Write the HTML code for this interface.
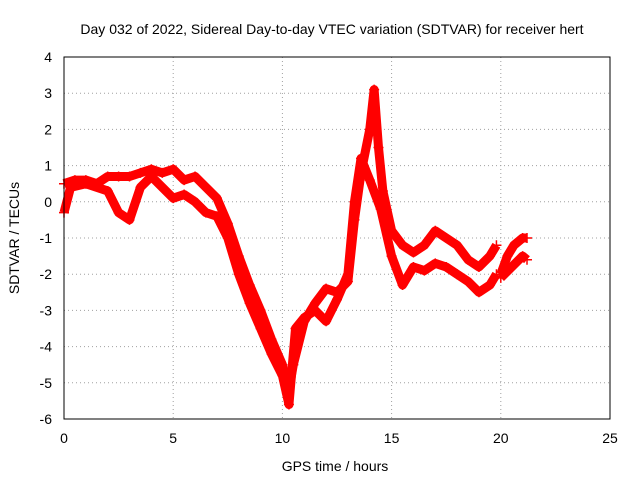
<!DOCTYPE html>
<html><head><meta charset="utf-8"><style>
body{margin:0;background:#fff}
svg text{font-family:"Liberation Sans",sans-serif;font-size:14px;fill:#000}
</style></head><body>
<svg id="c" width="640" height="480">
<text x="332" y="34" text-anchor="middle">Day 032 of 2022, Sidereal Day-to-day VTEC variation (SDTVAR) for receiver hert</text>
<text x="335" y="471" text-anchor="middle">GPS time / hours</text>
<text transform="translate(19,238) rotate(-90)" text-anchor="middle">SDTVAR / TECUs</text>
<g id="grid"></g><g id="marks"></g>
<rect x="64" y="57" width="546" height="362" fill="none" stroke="#000"/>
</svg>
<script>
const xTicks=[0,5,10,15,20,25];
const yTicks=[-6,-5,-4,-3,-2,-1,0,1,2,3,4];
const tA=[0,0.5,1,1.5,2,2.5,3,3.5,4,4.5,5,5.5,6,6.5,7,7.5,8,8.5,9,9.5,10,10.3,10.5,11,11.5,12,12.5,13,13.3,13.6,14,14.2,14.4,14.6,15,15.5,16,16.5,17,17.5,18,18.5,19,19.5,19.8];
const vA=[0.5,0.6,0.6,0.5,0.7,0.7,0.7,0.8,0.9,0.8,0.9,0.6,0.7,0.4,0.1,-0.6,-1.5,-2.3,-3.0,-3.8,-4.5,-5.2,-4.5,-3.3,-2.8,-2.4,-2.5,-2.2,-0.5,0.8,2.0,3.1,1.5,0.3,-0.8,-1.2,-1.4,-1.2,-0.8,-1.0,-1.2,-1.6,-1.8,-1.5,-1.2];
const tB=[0,0.3,1,2,2.5,3,3.5,4,5,5.5,6,6.5,7,7.5,8,8.5,9,9.5,10,10.3,10.6,11,11.5,12,12.5,13,13.3,13.6,14,14.5,15,15.5,16,16.5,17,17.5,18,18.5,19,19.5,19.8];
const vB=[-0.3,0.4,0.5,0.3,-0.3,-0.5,0.4,0.7,0.1,0.2,0.0,-0.3,-0.4,-1.0,-2.0,-2.8,-3.5,-4.2,-4.8,-5.6,-3.5,-3.2,-3.0,-3.3,-2.7,-2.0,0.0,1.2,0.6,-0.2,-1.5,-2.3,-1.8,-1.9,-1.7,-1.8,-2.0,-2.2,-2.5,-2.3,-2.0];
const tC=[20,20.3,20.6,21,21.2];
const vC=[-2.0,-1.5,-1.2,-1.0,-1.0];
const tD=[20,20.5,21,21.2];
const vD=[-2.1,-1.8,-1.5,-1.6];
const X=t=>64+t*546/25, Y=v=>419-(v+6)*36.2;
const ns="http://www.w3.org/2000/svg";
const g=document.getElementById('grid'), m=document.getElementById('marks');
function mk(tag,a,p){const e=document.createElementNS(ns,tag);for(const k in a)e.setAttribute(k,a[k]);p.appendChild(e);return e;}
xTicks.forEach(t=>{
  const l=mk('line',{x1:X(t),x2:X(t),y1:57,y2:419,stroke:'#a0a0a0','stroke-dasharray':'1,3'},g);
  
  
  const s=mk('text',{x:X(t),y:443,'text-anchor':'middle'},g);s.textContent=t;
  
  
});
yTicks.forEach(v=>{
  const l=mk('line',{x1:64,x2:610,y1:Y(v),y2:Y(v),stroke:'#a0a0a0','stroke-dasharray':'1,3'},g);
  
  
  const s=mk('text',{x:52,y:Y(v)+5,'text-anchor':'end'},g);s.textContent=v;
  
  
});
function series(ts,vs,name){
  const pts=ts.map((t,i)=>X(t)+','+Y(vs[i])).join(' ');
  const pl=mk('polyline',{points:pts,fill:'none',stroke:'#f00','stroke-width':9,'stroke-linejoin':'round'},m);
  
  
  ts.forEach((t,i)=>{
    const x=X(t),y=Y(vs[i]);
    const p=mk('path',{d:`M${x-5},${y}h10M${x},${y-5}v10`,stroke:'#f00','stroke-width':1.5},m);
    
    
  });
}
series(tA,vA,'series-upper');
series(tB,vB,'series-lower');
series(tC,vC,'series-late-upper');
series(tD,vD,'series-late-lower');
</script>
</body></html>
